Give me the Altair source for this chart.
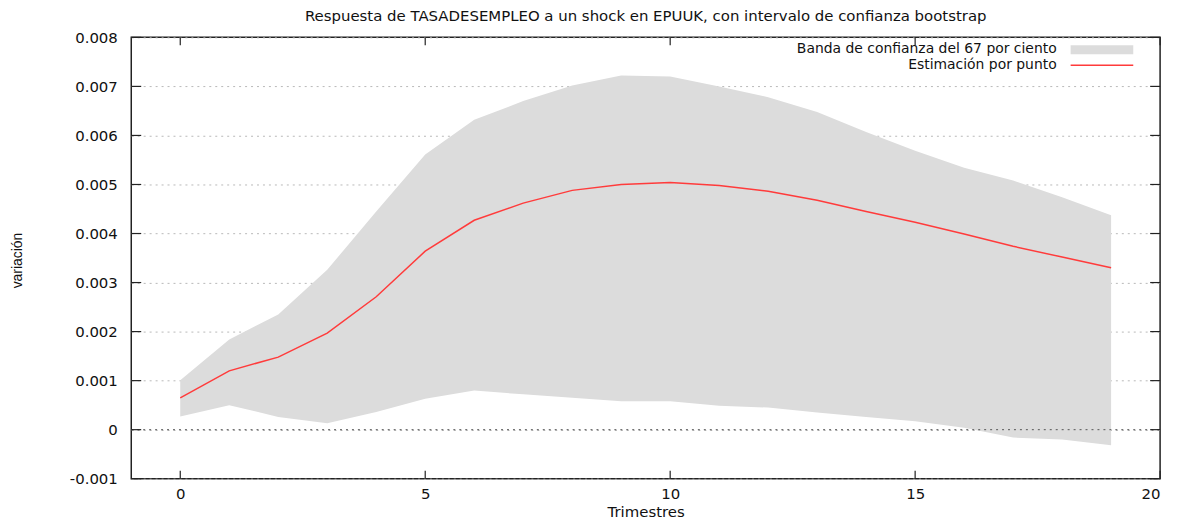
import altair as alt
import pandas as pd

# ---- data ----
periods = list(range(20))
estimate = [0.00065, 0.00120, 0.00148, 0.00197, 0.00271, 0.00364, 0.00427, 0.00462,
            0.00488, 0.00500, 0.00504, 0.00498, 0.00486, 0.00468, 0.00445, 0.00423,
            0.00399, 0.00374, 0.00352, 0.00330]
band_upper = [0.00101, 0.00184, 0.00235, 0.00326, 0.00445, 0.00561, 0.00632, 0.00670,
              0.00702, 0.00722, 0.00720, 0.00700, 0.00678, 0.00648, 0.00607, 0.00569,
              0.00534, 0.00508, 0.00474, 0.00437]
band_lower = [0.00027, 0.00050, 0.00026, 0.00013, 0.00036, 0.00063, 0.00080, 0.00072,
              0.00065, 0.00058, 0.00058, 0.00049, 0.00045, 0.00035, 0.00026, 0.00017,
              0.00004, -0.00016, -0.00020, -0.00032]
x_tick_values = [0, 5, 10, 15, 20]
y_tick_values = [-0.001, 0.0, 0.001, 0.002, 0.003, 0.004, 0.005, 0.006, 0.007, 0.008]
legend_labels = ["Banda de confianza del 67 por ciento", "Estimación por punto"]
title_text = "Respuesta de TASADESEMPLEO a un shock en EPUUK, con intervalo de confianza bootstrap"
x_title = "Trimestres"
y_title = "variación"

W, H = 1035, 444
FONT = "DejaVu Sans"
BAND = "#dcdcdc"
RED = "#ff3b3b"
TXT = "#111"

df = pd.DataFrame({"t": periods, "est": estimate, "lo": band_lower, "hi": band_upper})
xt = pd.DataFrame({"v": x_tick_values})
yt = pd.DataFrame({"v": y_tick_values})
leg = pd.DataFrame({"label": legend_labels, "row": [0, 1]})

xs = alt.Scale(domain=[-1, 20], nice=False, zero=False)
ys = alt.Scale(domain=[-0.001, 0.008], nice=False, zero=False)

x_axis = alt.Axis(values=x_tick_values, title=x_title, grid=False, ticks=False, tickSize=0,
                  domain=False, labelFont=FONT, labelFontSize=15, labelColor=TXT,
                  labelPadding=8, titleFont=FONT, titleFontSize=15, titleFontWeight="normal",
                  titleColor=TXT, titleX=W / 2, titleY=33, titleBaseline="middle",
                  titleAlign="center")
y_axis = alt.Axis(values=y_tick_values, title=y_title, grid=True, gridColor="#b8b8b8",
                  gridDash=[2, 4], gridWidth=1, ticks=False, tickSize=0, domain=False,
                  labelFont=FONT, labelFontSize=15, labelColor=TXT, labelPadding=14,
                  labelExpr="datum.value == 0 ? '0' : replace(format(datum.value, '.3f'), '\u2212', '-')",
                  titleFont="Liberation Sans", titleFontSize=14, titleFontWeight="normal",
                  titleColor=TXT, titleX=-114, titleY=H / 2 + 2, titleAngle=-90,
                  titleBaseline="middle", titleAlign="center")

band = alt.Chart(df).mark_area(color=BAND, opacity=1).encode(
    x=alt.X("t:Q", scale=xs, axis=x_axis),
    y=alt.Y("lo:Q", scale=ys, axis=y_axis),
    y2="hi:Q",
)

zero_line = alt.Chart(pd.DataFrame({"v": [0.0]})).mark_rule(
    color="#555", strokeDash=[2, 4], strokeWidth=1
).encode(y=alt.Y("v:Q", scale=ys), x=alt.value(0), x2=alt.value(W))

line = alt.Chart(df).mark_line(color=RED, strokeWidth=1.5).encode(
    x=alt.X("t:Q", scale=xs), y=alt.Y("est:Q", scale=ys)
)

tick_style = dict(color="#222", strokeWidth=1.2)
xt_bottom = alt.Chart(xt).mark_rule(**tick_style).encode(
    x=alt.X("v:Q", scale=xs), y=alt.value(H), y2=alt.value(H - 8))
xt_top = alt.Chart(xt).mark_rule(**tick_style).encode(
    x=alt.X("v:Q", scale=xs), y=alt.value(0), y2=alt.value(8))
yt_left = alt.Chart(yt).mark_rule(**tick_style).encode(
    y=alt.Y("v:Q", scale=ys), x=alt.value(0), x2=alt.value(10))
yt_right = alt.Chart(yt).mark_rule(**tick_style).encode(
    y=alt.Y("v:Q", scale=ys), x=alt.value(W), x2=alt.value(W - 10))

text_style = dict(align="right", baseline="middle", font=FONT, fontSize=14, color=TXT)
leg_text0 = alt.Chart(leg).transform_filter("datum.row == 0").mark_text(**text_style).encode(
    text="label:N", x=alt.value(931), y=alt.value(12))
leg_text1 = alt.Chart(leg).transform_filter("datum.row == 1").mark_text(**text_style).encode(
    text="label:N", x=alt.value(931), y=alt.value(28))
leg_rect = alt.Chart(leg).transform_filter("datum.row == 0").mark_rect(color=BAND).encode(
    x=alt.value(945), x2=alt.value(1008), y=alt.value(8), y2=alt.value(17))
leg_line = alt.Chart(leg).transform_filter("datum.row == 1").mark_rule(color=RED, strokeWidth=1.5).encode(
    x=alt.value(945), x2=alt.value(1008), y=alt.value(28))

chart = alt.layer(
    band, zero_line, line, xt_bottom, xt_top, yt_left, yt_right,
    leg_text0, leg_text1, leg_rect, leg_line
).properties(
    width=W, height=H,
    title=alt.TitleParams(title_text, font=FONT, fontSize=15, fontWeight="normal",
                          color=TXT, anchor="middle", offset=6),
    autosize=alt.AutoSizeParams(type="none"),
    padding={"left": 124, "top": 28, "right": 16, "bottom": 40},
).configure_view(stroke="#222", strokeWidth=1.5)

chart.save("out.html", embed_options={"renderer": "svg", "actions": False})
